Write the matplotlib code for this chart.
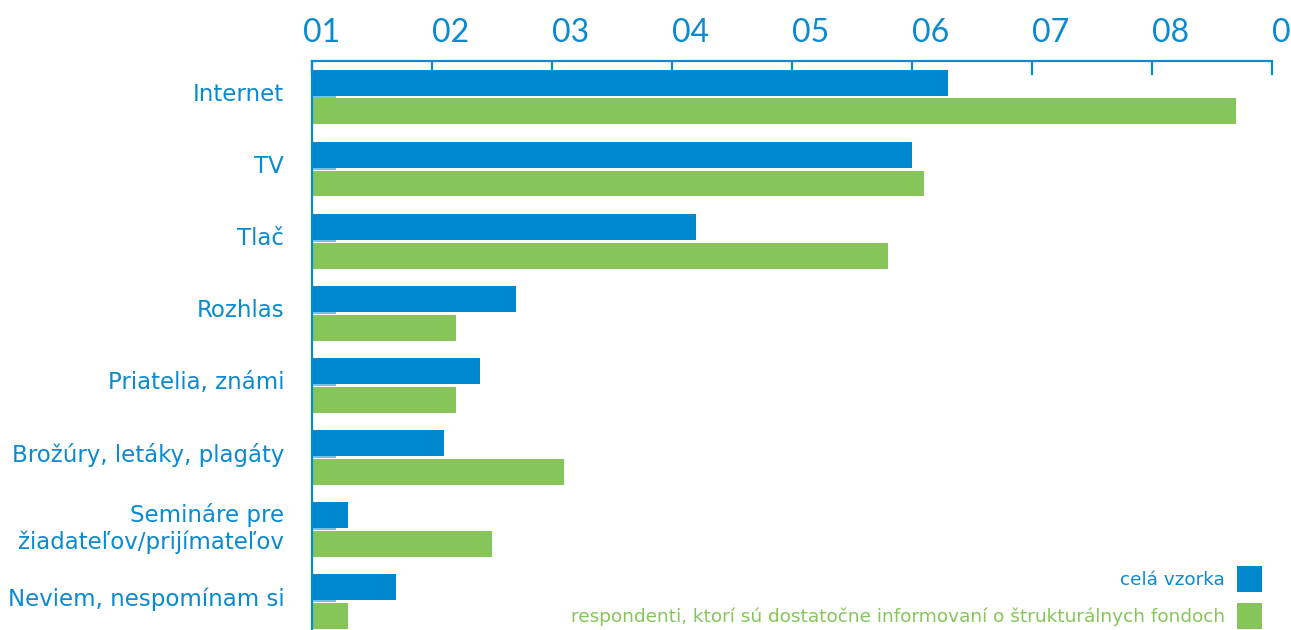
import matplotlib.pyplot as plt
import matplotlib.transforms as mtransforms
import numpy as np

categories = ["Internet", "TV", "Tlač", "Rozhlas", "Priatelia, známi",
              "Brožúry, letáky, plagáty", "Semináre pre\nžiadateľov/prijímateľov",
              "Neviem, nespomínam si"]
cela_vzorka = [53, 50, 32, 17, 14, 11, 3, 7]
informovani = [77, 51, 48, 12, 12, 21, 15, 3]
tick_pos = [0, 10, 20, 30, 40, 50, 60, 70, 80]
tick_labels = ["01", "02", "03", "04", "05", "06", "07", "08", "0"]
series_names = ["celá vzorka",
                "respondenti, ktorí sú dostatočne informovaní o štrukturálnych fondoch"]

BLUE = "#0088cf"
GREEN = "#85c55a"
TXT = "#0a8ad0"

plt.rcParams['font.family'] = ['DejaVu Sans']

fig = plt.figure(figsize=(12.91, 6.30), dpi=100)
ax = fig.add_axes([312/1291, 1 - 637.5/630, 960/1291, 576.5/630])

y = np.arange(len(categories))
h = 0.36
ax.barh(y - 0.2, cela_vzorka, height=h, color=BLUE, label=series_names[0], zorder=2)
ax.barh(y + 0.2, informovani, height=h, color=GREEN, label=series_names[1], zorder=2)

ax.set_xlim(0, 80)
ax.set_ylim(len(categories) - 0.5, -0.5)

# only top + left spines
for s in ['right', 'bottom']:
    ax.spines[s].set_visible(False)
for s in ['top', 'left']:
    ax.spines[s].set_color(TXT)
    ax.spines[s].set_linewidth(1.6)

ax.xaxis.tick_top()
ax.set_xticks(tick_pos)
ax.set_xticklabels(tick_labels, family=['Lato', 'DejaVu Sans'])
ax.tick_params(axis='x', direction='in', length=10, width=1.6, color=TXT,
               labelcolor=TXT, labelsize=23, pad=9)
for lbl in ax.get_xticklabels():
    lbl.set_ha('left')
# first label sits a bit left of its tick
first = ax.get_xticklabels()[0]
first.set_transform(first.get_transform() +
                    mtransforms.ScaledTranslation(-9/100, 0, fig.dpi_scale_trans))

ax.set_yticks(y)
ax.set_yticklabels(categories)
ax.tick_params(axis='y', direction='in', length=17, width=1.2, color='#5ab4e6',
               labelcolor=TXT, labelsize=16.5, pad=20)
up = mtransforms.ScaledTranslation(0, 5/100, fig.dpi_scale_trans)
for lbl in ax.get_yticklabels():
    lbl.set_ha('right')
    lbl.set_multialignment('right')
    lbl.set_transform(lbl.get_transform() + up)

leg = ax.legend(loc='lower right', bbox_to_anchor=(1262/1291, 1/630),
                bbox_transform=fig.transFigure, frameon=False, markerfirst=False,
                fontsize=13.3, handlelength=1.35, handleheight=1.75,
                handletextpad=0.65, labelspacing=0.62, borderpad=0, borderaxespad=0,
                labelcolor=[TXT, GREEN])

fig.savefig("out.png", dpi=100)
